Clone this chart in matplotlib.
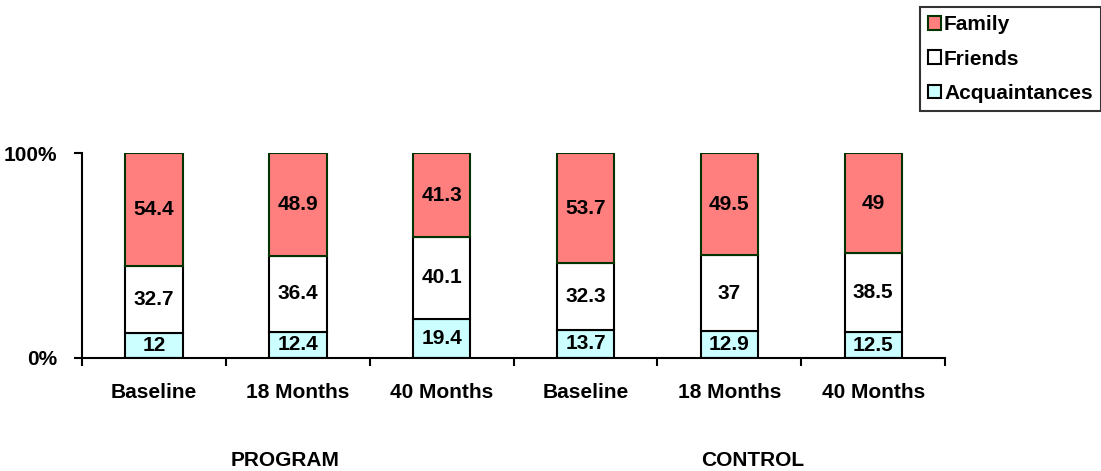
import matplotlib
matplotlib.use("Agg")
import matplotlib.pyplot as plt
import numpy as np

plt.rcParams['font.family'] = ['Liberation Sans', 'DejaVu Sans']
plt.rcParams['font.weight'] = 'bold'

## data
categories = ["Baseline", "18 Months", "40 Months", "Baseline", "18 Months", "40 Months"]
groups = ["PROGRAM", "CONTROL"]
acquaintances = [12, 12.4, 19.4, 13.7, 12.9, 12.5]
friends = [32.7, 36.4, 40.1, 32.3, 37, 38.5]
family = [54.4, 48.9, 41.3, 53.7, 49.5, 49]

acq = np.array(acquaintances)
fri = np.array(friends)
fam = np.array(family)
tot = acq + fri + fam
acq_p = acq / tot * 100
fri_p = fri / tot * 100
fam_p = fam / tot * 100

fig = plt.figure(figsize=(11.01, 4.71), dpi=100)
ax = fig.add_axes([0.0745, 0.240, 0.784, 0.435])

x = np.arange(len(categories))
w = 0.4
b1 = ax.bar(x, acq_p, w, color="#ccffff", edgecolor="black", linewidth=1.5, label="Acquaintances")
b2 = ax.bar(x, fri_p, w, bottom=acq_p, color="white", edgecolor="black", linewidth=1.5, label="Friends")
b3 = ax.bar(x, fam_p, w, bottom=acq_p + fri_p, color="#ff7f7f", edgecolor="#003300", linewidth=1.5, label="Family")

fs = 15
for i in range(len(x)):
    ax.text(x[i], acq_p[i] / 2, f"{acquaintances[i]:g}", ha="center", va="center", fontsize=fs, fontweight="bold")
    ax.text(x[i], acq_p[i] + fri_p[i] / 2, f"{friends[i]:g}", ha="center", va="center", fontsize=fs, fontweight="bold")
    ax.text(x[i], acq_p[i] + fri_p[i] + fam_p[i] / 2, f"{family[i]:g}", ha="center", va="center", fontsize=fs, fontweight="bold")

ax.set_xlim(-0.5, len(x) - 0.5)
ax.set_ylim(0, 100)
ax.set_yticks([0, 100])
ax.set_yticklabels(["0%", "100%"], fontsize=fs, fontweight="bold")
ax.set_xticks(np.arange(len(x) + 1) - 0.5)
ax.set_xticklabels([])
ax.set_xticks(x, minor=True)
ax.set_xticklabels(categories, minor=True, fontsize=fs, fontweight="bold")
ax.tick_params(axis="x", which="minor", length=0, pad=18)
ax.tick_params(axis="x", which="major", length=6, width=1.5, direction="out")
ax.tick_params(axis="y", length=6, width=1.5, direction="out", pad=12)
ax.spines["top"].set_visible(False)
ax.spines["right"].set_visible(False)
ax.spines["left"].set_linewidth(1.5)
ax.spines["bottom"].set_linewidth(1.5)

fig.text(285 / 1101, 1 - 460 / 471, groups[0], ha="center", va="center", fontsize=fs, fontweight="bold")
fig.text(753 / 1101, 1 - 460 / 471, groups[1], ha="center", va="center", fontsize=fs, fontweight="bold")

handles = [b3, b2, b1]
leg = fig.legend(handles, ["Family", "Friends", "Acquaintances"], loc="upper right",
                 bbox_to_anchor=(1.0, 1 - 7 / 471), frameon=True, fancybox=False,
                 prop={"size": fs, "weight": "bold"}, handlelength=0.62, handleheight=0.62,
                 handletextpad=0.15, borderpad=0.4, labelspacing=0.73, borderaxespad=0.0)
leg.get_frame().set_edgecolor("black")
leg.get_frame().set_linewidth(1.5)

fig.savefig("out.png", dpi=100)
